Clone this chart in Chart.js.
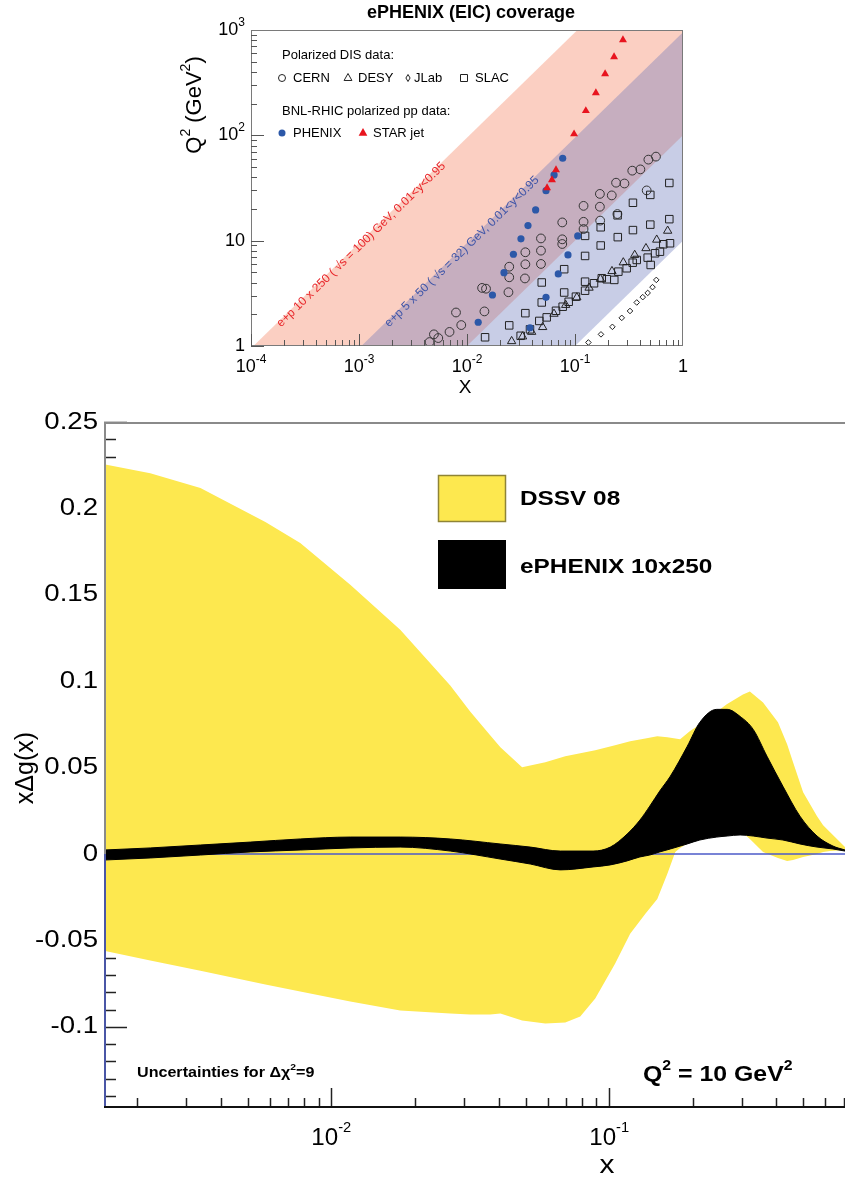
<!DOCTYPE html>
<html lang="en">
<head>
<meta charset="UTF-8">
<title>ePHENIX (EIC) coverage</title>
<script src="https://cdn.jsdelivr.net/npm/chart.js"></script>
<style>
  body { margin: 0; background: #fff; width: 845px; height: 1183px; position: relative; overflow: hidden; }
  #cobertura { position: absolute; left: 175px; top: 0; }
  #gluon { position: absolute; left: 0; top: 398px; }
</style>
</head>
<body>
<canvas id="cobertura" width="520" height="398"></canvas>
<canvas id="gluon" width="845" height="785"></canvas>

<script>
// ===== grafico de cima: cobertura (x, Q2) =====
const cernX  = [0.0045, 0.00494, 0.00542, 0.00689, 0.00791, 0.00885, 0.0138, 0.0150, 0.0145, 0.0242, 0.0246, 0.0246, 0.0344, 0.0347, 0.0347, 0.0484, 0.0484, 0.0484, 0.0762, 0.0762, 0.0762, 0.120, 0.120, 0.120, 0.170, 0.170, 0.171, 0.219, 0.240, 0.287, 0.339, 0.403, 0.478, 0.562, 0.247, 0.461];
const cernQ2 = [1.09, 1.29, 1.19, 1.36, 2.08, 1.58, 3.56, 3.50, 2.13, 3.24, 4.49, 5.66, 4.38, 5.97, 7.76, 6.01, 8.04, 10.5, 9.3, 10.3, 14.9, 12.9, 15.1, 21.4, 21.0, 27.8, 15.5, 26.9, 35.5, 34.9, 46.2, 47.5, 58.8, 62.8, 17.9, 30.0];

const slacX  = [0.747, 0.498, 0.344, 0.248, 0.747, 0.498, 0.344, 0.249, 0.173, 0.173, 0.124, 0.124, 0.0794, 0.124, 0.0794, 0.0492, 0.0492, 0.0347, 0.0246, 0.0147,
                0.0314, 0.0383, 0.0467, 0.0547, 0.0667, 0.0769, 0.0874, 0.102, 0.124, 0.150, 0.177, 0.197, 0.231, 0.252, 0.301, 0.342, 0.373, 0.471, 0.502, 0.551, 0.612, 0.657, 0.758];
const slacQ2 = [35.3, 27.2, 22.9, 17.4, 16.0, 14.2, 12.6, 10.8, 13.4, 9.0, 11.1, 7.16, 5.36, 4.08, 3.22, 4.01, 2.59, 2.05, 1.57, 1.21,
                1.25, 1.44, 1.73, 1.87, 2.16, 2.36, 2.63, 2.94, 3.35, 3.94, 4.40, 4.30, 4.24, 5.08, 5.47, 6.18, 6.56, 6.90, 5.88, 7.59, 7.86, 9.25, 9.45];

const desyX  = [0.0259, 0.0327, 0.0397, 0.0502, 0.0639, 0.0820, 0.104, 0.135, 0.172, 0.220, 0.280, 0.357, 0.454, 0.571, 0.721];
const desyQ2 = [1.11, 1.23, 1.36, 1.51, 2.02, 2.45, 2.89, 3.57, 4.33, 5.13, 6.21, 7.31, 8.47, 10.2, 12.4];

const jlabX  = [0.133, 0.174, 0.222, 0.271, 0.323, 0.373, 0.424, 0.471, 0.522, 0.566];
const jlabQ2 = [1.08, 1.29, 1.52, 1.85, 2.15, 2.59, 2.91, 3.19, 3.62, 4.24];

const phenixX  = [0.0769, 0.0640, 0.0539, 0.0432, 0.0367, 0.0316, 0.0269, 0.0220, 0.0172, 0.0127, 0.0383, 0.106, 0.0861, 0.0700, 0.0539];
const phenixQ2 = [60.6, 42.1, 29.8, 19.6, 13.9, 10.4, 7.43, 4.97, 3.05, 1.68, 1.49, 11.1, 7.32, 4.83, 2.90];

const starX  = [0.278, 0.230, 0.190, 0.156, 0.126, 0.098, 0.0667, 0.0612, 0.0551];
const starQ2 = [805, 555, 383, 253, 171, 103, 46.9, 37.7, 31.7];

// faixas Q2 = s*x*y, 0.01<y<0.95
const faixaX     = [1e-4, 1];
const faixa100Up = [0.95, 9500];
const faixa100Lo = [0.01, 100];
const faixa32Up  = [0.095, 950];
const faixa32Lo  = [0.001, 10];

const coberturaXTicks = [1e-4, 1e-3, 1e-2, 1e-1, 1];
const coberturaXLabels = ['-4', '-3', '-2', '-1', ''];
const coberturaYTicks = [1, 10, 100, 1000];
const coberturaYLabels = ['', '', '2', '3'];

// ===== grafico de baixo: x*Delta g(x) =====
const dssvX  = [0.00152, 0.00223, 0.00338, 0.00579, 0.00773, 0.0117, 0.0177, 0.0268, 0.0316, 0.0373, 0.0406, 0.0486, 0.0589, 0.0695, 0.0787, 0.0891, 0.105, 0.119, 0.135, 0.149, 0.162, 0.173, 0.180, 0.195, 0.212, 0.265, 0.303, 0.321, 0.358, 0.405, 0.437, 0.459, 0.499, 0.560, 0.589, 0.623, 0.706];
const dssvUp = [0.2256, 0.2204, 0.2118, 0.1922, 0.1800, 0.1558, 0.1298, 0.0975, 0.0825, 0.0687, 0.0617, 0.0502, 0.0531, 0.0565, 0.0583, 0.0600, 0.0629, 0.0652, 0.0669, 0.0681, 0.0675, 0.0669, 0.0664, 0.0710, 0.0750, 0.0866, 0.0923, 0.0941, 0.0877, 0.0762, 0.0635, 0.0531, 0.0358, 0.0219, 0.0167, 0.0127, 0.0040];
const dssvLo = [-0.0560, -0.0617, -0.0675, -0.0756, -0.0796, -0.0854, -0.0906, -0.0923, -0.0929, -0.0929, -0.0923, -0.0964, -0.0981, -0.0975, -0.0941, -0.0837, -0.0635, -0.0462, -0.0346, -0.0260, -0.0115, 0.0012, 0.0035, 0.0069, 0.0092, 0.0115, 0.0121, 0.0087, 0.0012, -0.0023, -0.0040, -0.0035, -0.0017, 0.0, 0.0012, 0.0017, 0.0023];

const ephX  = [0.00152, 0.00223, 0.00338, 0.00512, 0.00773, 0.0117, 0.0177, 0.0268, 0.0405, 0.0520, 0.0667, 0.0875, 0.101, 0.116, 0.129, 0.140, 0.152, 0.166, 0.191, 0.212, 0.244, 0.266, 0.296, 0.330, 0.370, 0.422, 0.486, 0.560, 0.639, 0.706];
const ephUp = [0.0023, 0.0035, 0.0052, 0.0069, 0.0087, 0.0098, 0.0098, 0.0087, 0.0058, 0.0040, 0.0017, 0.0017, 0.0040, 0.0115, 0.0196, 0.0277, 0.0364, 0.0450, 0.0623, 0.0762, 0.0837, 0.0837, 0.0796, 0.0721, 0.0565, 0.0392, 0.0219, 0.0104, 0.0046, 0.0023];
const ephLo = [-0.0035, -0.0023, -0.0006, 0.0012, 0.0023, 0.0035, 0.0040, 0.0017, -0.0029, -0.0058, -0.0092, -0.0075, -0.0063, -0.0040, -0.0017, -0.0006, 0.0012, 0.0029, 0.0058, 0.0081, 0.0098, 0.0104, 0.0110, 0.0104, 0.0092, 0.0081, 0.0058, 0.0040, 0.0029, 0.0017];

const gluonXTicks = [0.01, 0.1];
const gluonXLabels = ['-2', '-1'];
const gluonYTicks = [0.25, 0.2, 0.15, 0.1, 0.05, 0, -0.05, -0.1];
const gluonYLabels = ['0.25', '0.2', '0.15', '0.1', '0.05', '0', '-0.05', '-0.1'];

const FONTE = '"Liberation Sans", Arial, Helvetica, sans-serif';

function pts(xs, ys) {
  return xs.map((x, i) => ({ x: x, y: ys[i] }));
}

// escreve texto com partes em expoente: partes = [['Q'], ['2', true], ...]
function escrever(ctx, partes, x, y, o) {
  const st = o.stretch || 1, tam = o.size, peso = o.bold ? 'bold ' : '';
  const fN = peso + tam + 'px ' + FONTE;
  const fS = peso + Math.round(tam * (o.supScale || 0.62)) + 'px ' + FONTE;
  ctx.save();
  let total = 0;
  const larg = [];
  partes.forEach(p => { ctx.font = p[1] ? fS : fN; const w = ctx.measureText(p[0]).width; larg.push(w); total += w; });
  ctx.translate(x, y);
  if (o.rot) ctx.rotate(o.rot);
  ctx.scale(st, 1);
  let x0 = o.align === 'center' ? -total / 2 : (o.align === 'right' ? -total : 0);
  ctx.fillStyle = o.color || '#000';
  ctx.textBaseline = o.baseline || 'middle';
  ctx.textAlign = 'left';
  partes.forEach((p, i) => {
    ctx.font = p[1] ? fS : fN;
    ctx.fillText(p[0], x0, p[1] ? -tam * (o.supRise || 0.42) : 0);
    x0 += larg[i];
  });
  ctx.restore();
}

function marcador(ctx, tipo, x, y, r, cor, cheio) {
  ctx.save();
  ctx.beginPath();
  if (tipo === 'circle') ctx.arc(x, y, r, 0, Math.PI * 2);
  else if (tipo === 'triangle') { ctx.moveTo(x, y - r); ctx.lineTo(x + r * 0.87, y + r * 0.55); ctx.lineTo(x - r * 0.87, y + r * 0.55); ctx.closePath(); }
  else if (tipo === 'diamond') { ctx.moveTo(x, y - r); ctx.lineTo(x + r * 0.6, y); ctx.lineTo(x, y + r); ctx.lineTo(x - r * 0.6, y); ctx.closePath(); }
  else if (tipo === 'square') ctx.rect(x - r, y - r, 2 * r, 2 * r);
  if (cheio) { ctx.fillStyle = cor; ctx.fill(); }
  else { ctx.strokeStyle = cor; ctx.lineWidth = 1; ctx.stroke(); }
  ctx.restore();
}

// ---------- decoracao do grafico de cima ----------
const coberturaDecor = {
  id: 'coberturaDecor',
  afterDatasetsDraw(chart) {
    const { ctx, chartArea: a, scales: { x, y } } = chart;

    // rotulos das faixas, inclinados ao longo da faixa
    const ang = Math.atan2(y.getPixelForValue(10) - y.getPixelForValue(1), x.getPixelForValue(1e-2) - x.getPixelForValue(1e-3));
    escrever(ctx, [['e+p 10 x 250 ( \u221As = 100) GeV, 0.01<y<0.95']], x.getPixelForValue(1.9e-4), y.getPixelForValue(1.5),
      { size: 12, rot: ang, color: '#e8262a', baseline: 'alphabetic' });
    escrever(ctx, [['e+p 5 x 50 ( \u221As = 32) GeV, 0.01<y<0.95']], x.getPixelForValue(1.9e-3), y.getPixelForValue(1.5),
      { size: 12, rot: ang, color: '#3f55a8', baseline: 'alphabetic' });

    // moldura
    ctx.save();
    ctx.strokeStyle = '#7a7a7a';
    ctx.lineWidth = 1;
    ctx.strokeRect(a.left + 0.5, a.top + 0.5, a.right - a.left - 1, a.bottom - a.top - 1);

    // ticks para dentro
    ctx.strokeStyle = '#555';
    for (let d = 0; d < 3; d++) {
      for (let m = 1; m <= 9; m++) {
        const py = Math.round(y.getPixelForValue(m * Math.pow(10, d))) + 0.5;
        const len = m === 1 ? 13 : 6;
        ctx.beginPath(); ctx.moveTo(a.left, py); ctx.lineTo(a.left + len, py); ctx.stroke();
      }
    }
    for (let d = -4; d < 0; d++) {
      for (let m = 1; m <= 9; m++) {
        const px = Math.round(x.getPixelForValue(m * Math.pow(10, d))) + 0.5;
        const len = m === 1 ? 12 : 6;
        ctx.beginPath(); ctx.moveTo(px, a.bottom); ctx.lineTo(px, a.bottom - len); ctx.stroke();
      }
    }
    ctx.restore();

    // rotulos dos eixos
    coberturaXTicks.forEach((v, i) => {
      const px = x.getPixelForValue(v);
      if (coberturaXLabels[i]) escrever(ctx, [['10'], [coberturaXLabels[i], true]], px, 367, { size: 18, align: 'center', supScale: 0.65 });
      else escrever(ctx, [['1']], px, 367, { size: 18, align: 'center' });
    });
    coberturaYTicks.forEach((v, i) => {
      const py = y.getPixelForValue(v);
      const lab = v === 1 ? [['1']] : (coberturaYLabels[i] ? [['10'], [coberturaYLabels[i], true]] : [['10']]);
      escrever(ctx, lab, a.left - 6, py, { size: 18, align: 'right', supScale: 0.65 });
    });

    // titulos
    escrever(ctx, [['ePHENIX (EIC) coverage']], 296, 13, { size: 18, bold: true, align: 'center' });
    escrever(ctx, [['X']], 290, 388, { size: 19, align: 'center' });
    escrever(ctx, [['Q'], ['2', true], [' (GeV'], ['2', true], [')']], 20, 105, { size: 22, align: 'center', rot: -Math.PI / 2 });

    // legenda
    const L = 107;
    escrever(ctx, [['Polarized DIS data:']], L, 55, { size: 13 });
    marcador(ctx, 'circle', L, 78, 3.5, '#222', false);
    escrever(ctx, [['CERN']], L + 11, 78, { size: 13 });
    marcador(ctx, 'triangle', L + 66, 78, 4.5, '#222', false);
    escrever(ctx, [['DESY']], L + 76, 78, { size: 13 });
    marcador(ctx, 'diamond', L + 126, 78, 3.5, '#222', false);
    escrever(ctx, [['JLab']], L + 132, 78, { size: 13 });
    marcador(ctx, 'square', L + 182, 78, 3.5, '#222', false);
    escrever(ctx, [['SLAC']], L + 193, 78, { size: 13 });
    escrever(ctx, [['BNL-RHIC polarized pp data:']], L, 111, { size: 13 });
    marcador(ctx, 'circle', L, 133, 3.5, '#2c58a8', true);
    escrever(ctx, [['PHENIX']], L + 11, 133, { size: 13 });
    marcador(ctx, 'triangle', L + 81, 133, 5, '#e8141e', true);
    escrever(ctx, [['STAR jet']], L + 91, 133, { size: 13 });
  }
};

new Chart(document.getElementById('cobertura'), {
  type: 'scatter',
  data: {
    datasets: [
      { type: 'line', data: pts(faixaX, faixa100Up), fill: '+1', backgroundColor: 'rgba(245,140,110,0.42)', borderColor: 'rgba(0,0,0,0)', borderWidth: 0, pointRadius: 0, order: 20 },
      { type: 'line', data: pts(faixaX, faixa100Lo), fill: false, borderColor: 'rgba(0,0,0,0)', borderWidth: 0, pointRadius: 0, order: 21 },
      { type: 'line', data: pts(faixaX, faixa32Up), fill: '+1', backgroundColor: 'rgba(98,112,184,0.35)', borderColor: 'rgba(0,0,0,0)', borderWidth: 0, pointRadius: 0, order: 18 },
      { type: 'line', data: pts(faixaX, faixa32Lo), fill: false, borderColor: 'rgba(0,0,0,0)', borderWidth: 0, pointRadius: 0, order: 19 },
      { label: 'CERN', data: pts(cernX, cernQ2), pointStyle: 'circle', pointRadius: 4.4, borderColor: '#333', borderWidth: 1, backgroundColor: 'rgba(0,0,0,0)', order: 5 },
      { label: 'DESY', data: pts(desyX, desyQ2), pointStyle: 'triangle', pointRadius: 4.8, borderColor: '#222', borderWidth: 1, backgroundColor: 'rgba(0,0,0,0)', order: 4 },
      { label: 'JLab', data: pts(jlabX, jlabQ2), pointStyle: 'rectRot', pointRadius: 2.8, borderColor: '#222', borderWidth: 1, backgroundColor: 'rgba(0,0,0,0)', order: 6 },
      { label: 'SLAC', data: pts(slacX, slacQ2), pointStyle: 'rect', pointRadius: 5.3, borderColor: '#222', borderWidth: 1, backgroundColor: 'rgba(0,0,0,0)', order: 3 },
      { label: 'PHENIX', data: pts(phenixX, phenixQ2), pointStyle: 'circle', pointRadius: 3.6, borderColor: '#2c58a8', borderWidth: 0, backgroundColor: '#2c58a8', order: 2 },
      { label: 'STAR jet', data: pts(starX, starQ2), pointStyle: 'triangle', pointRadius: 4.6, borderColor: '#e8141e', borderWidth: 0, backgroundColor: '#e8141e', order: 1 }
    ]
  },
  options: {
    responsive: false,
    animation: false,
    devicePixelRatio: 1,
    layout: { padding: { top: 30, right: 12, left: 0, bottom: 0 } },
    plugins: { legend: { display: false }, tooltip: { enabled: false } },
    scales: {
      x: { type: 'logarithmic', min: 1e-4, max: 1, ticks: { display: false }, grid: { display: false }, border: { display: false },
           afterFit: s => { s.height = 52; } },
      y: { type: 'logarithmic', min: 1, max: 1000, ticks: { display: false }, grid: { display: false }, border: { display: false },
           afterFit: s => { s.width = 76; } }
    }
  },
  plugins: [coberturaDecor]
});

// ---------- decoracao do grafico de baixo ----------
const ESTICA = 1.15;
const gluonDecor = {
  id: 'gluonDecor',
  beforeDatasetsDraw(chart) {
    const { ctx, chartArea: a, scales: { x, y } } = chart;
    ctx.save();
    ctx.strokeStyle = '#222';
    ctx.lineWidth = 1.5;
    for (let k = -14; k <= 25; k++) {
      const py = Math.round(y.getPixelForValue(k / 100)) + 0.5;
      const len = k % 5 === 0 ? 23 : 12;
      ctx.beginPath(); ctx.moveTo(a.left, py); ctx.lineTo(a.left + len, py); ctx.stroke();
    }
    for (let d = -3; d <= -1; d++) {
      for (let m = 1; m <= 9; m++) {
        const v = m * Math.pow(10, d);
        if (v < x.min || v > x.max) continue;
        const px = Math.round(x.getPixelForValue(v)) + 0.5;
        const len = m === 1 ? 20 : 10;
        ctx.beginPath(); ctx.moveTo(px, a.bottom); ctx.lineTo(px, a.bottom - len); ctx.stroke();
      }
    }
    ctx.restore();
  },
  afterDatasetsDraw(chart) {
    const { ctx, chartArea: a, scales: { x, y } } = chart;
    const zero = y.getPixelForValue(0);
    ctx.save();
    // moldura: topo cinza, eixo esquerdo cinza/azul, base preta
    ctx.lineWidth = 2;
    ctx.strokeStyle = '#8a8a8a';
    ctx.beginPath(); ctx.moveTo(a.left, a.top + 1); ctx.lineTo(a.right, a.top + 1); ctx.stroke();
    ctx.beginPath(); ctx.moveTo(a.left + 1, a.top); ctx.lineTo(a.left + 1, zero); ctx.stroke();
    ctx.strokeStyle = '#4a56a6';
    ctx.beginPath(); ctx.moveTo(a.left + 1, zero); ctx.lineTo(a.left + 1, a.bottom); ctx.stroke();
    ctx.strokeStyle = '#111';
    ctx.beginPath(); ctx.moveTo(a.left, a.bottom - 1); ctx.lineTo(a.right, a.bottom - 1); ctx.stroke();
    ctx.restore();

    // rotulos dos ticks
    gluonYTicks.forEach((v, i) => {
      escrever(ctx, [[gluonYLabels[i]]], a.left - 6, y.getPixelForValue(v), { size: 24, align: 'right', stretch: ESTICA });
    });
    gluonXTicks.forEach((v, i) => {
      escrever(ctx, [['10'], [gluonXLabels[i], true]], x.getPixelForValue(v), a.bottom + 31, { size: 23, align: 'center', stretch: 1.05, supScale: 0.6, supRise: 0.48 });
    });

    // titulos dos eixos
    escrever(ctx, [['x']], 607, 768, { size: 26, align: 'center', stretch: ESTICA });
    escrever(ctx, [['x\u0394g(x)']], 26, 370, { size: 25, align: 'center', rot: -Math.PI / 2 });

    // legenda
    ctx.save();
    ctx.fillStyle = '#fde84f';
    ctx.strokeStyle = '#8f8436';
    ctx.lineWidth = 1.5;
    ctx.fillRect(438, 77, 68, 47);
    ctx.strokeRect(438.5, 77.5, 67, 46);
    ctx.fillStyle = '#000';
    ctx.fillRect(438, 142, 68, 49);
    ctx.restore();
    escrever(ctx, [['DSSV 08']], 520, 101, { size: 21, bold: true, stretch: 1.16 });
    escrever(ctx, [['ePHENIX 10x250']], 520, 169, { size: 21, bold: true, stretch: 1.16 });

    // anotacoes
    escrever(ctx, [['Uncertainties for \u0394\u03C7'], ['2', true], ['=9']], 137, 675, { size: 14, bold: true, stretch: 1.15 });
    escrever(ctx, [['Q'], ['2', true], [' = 10 GeV'], ['2', true]], 643, 677, { size: 22, bold: true, stretch: 1.13 });
  }
};

new Chart(document.getElementById('gluon'), {
  type: 'scatter',
  data: {
    datasets: [
      { type: 'line', label: 'DSSV 08', data: pts(dssvX, dssvUp), fill: '+1', backgroundColor: '#fde84f', borderColor: 'rgba(0,0,0,0)', borderWidth: 0, pointRadius: 0, tension: 0, order: 30 },
      { type: 'line', data: pts(dssvX, dssvLo), fill: false, borderColor: 'rgba(0,0,0,0)', borderWidth: 0, pointRadius: 0, tension: 0, order: 31 },
      { type: 'line', data: pts([0.00152, 0.706], [0, 0]), fill: false, borderColor: '#4b5ac8', borderWidth: 1.5, pointRadius: 0, order: 20 },
      { type: 'line', label: 'ePHENIX 10x250', data: pts(ephX, ephUp), fill: '+1', backgroundColor: '#000', borderColor: '#000', borderWidth: 1, pointRadius: 0, cubicInterpolationMode: 'monotone', order: 10 },
      { type: 'line', data: pts(ephX, ephLo), fill: false, borderColor: '#000', borderWidth: 1, pointRadius: 0, cubicInterpolationMode: 'monotone', order: 11 }
    ]
  },
  options: {
    responsive: false,
    animation: false,
    devicePixelRatio: 1,
    layout: { padding: { top: 24, right: 0, left: 0, bottom: 0 } },
    plugins: { legend: { display: false }, tooltip: { enabled: false } },
    scales: {
      x: { type: 'logarithmic', min: 0.00152, max: 0.706, ticks: { display: false }, grid: { display: false }, border: { display: false },
           afterFit: s => { s.height = 75; } },
      y: { type: 'linear', min: -0.147, max: 0.25, ticks: { display: false }, grid: { display: false }, border: { display: false },
           afterFit: s => { s.width = 104; } }
    }
  },
  plugins: [gluonDecor]
});
</script>
</body>
</html>
